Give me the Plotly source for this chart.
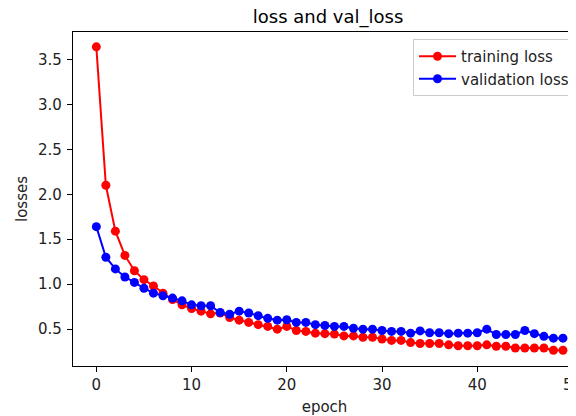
import plotly.graph_objects as go

epochs = list(range(50))
training_loss = [3.64, 2.10, 1.59, 1.32, 1.15, 1.05, 0.98, 0.90, 0.83, 0.77,
                 0.73, 0.70, 0.67, 0.68, 0.63, 0.60, 0.575, 0.55, 0.53, 0.50,
                 0.53, 0.485, 0.475, 0.455, 0.45, 0.445, 0.425, 0.425, 0.41, 0.41,
                 0.39, 0.375, 0.375, 0.35, 0.34, 0.34, 0.34, 0.325, 0.315, 0.315,
                 0.315, 0.325, 0.31, 0.31, 0.29, 0.29, 0.29, 0.29, 0.265, 0.265]
validation_loss = [1.64, 1.30, 1.17, 1.08, 1.02, 0.955, 0.90, 0.87, 0.845, 0.815,
                   0.77, 0.76, 0.76, 0.685, 0.665, 0.70, 0.68, 0.65, 0.62, 0.60,
                   0.605, 0.575, 0.575, 0.55, 0.54, 0.53, 0.53, 0.51, 0.50, 0.50,
                   0.485, 0.475, 0.475, 0.455, 0.48, 0.46, 0.46, 0.45, 0.455, 0.455,
                   0.46, 0.50, 0.44, 0.44, 0.44, 0.485, 0.45, 0.42, 0.40, 0.40]
y_ticks = [0.5, 1.0, 1.5, 2.0, 2.5, 3.0, 3.5]
x_ticks = [0, 10, 20, 30, 40, 50]

FONT = "DejaVu Sans"

fig = go.Figure()
fig.add_trace(go.Scatter(x=epochs, y=training_loss, mode="lines+markers",
                         name="training loss",
                         line=dict(color="#ff0000", width=2),
                         marker=dict(color="#ff0000", size=9)))
fig.add_trace(go.Scatter(x=epochs, y=validation_loss, mode="lines+markers",
                         name="validation loss",
                         line=dict(color="#0000ff", width=2),
                         marker=dict(color="#0000ff", size=9)))

axis_common = dict(showgrid=False, zeroline=False, showline=True,
                   linecolor="black", linewidth=1.2, ticks="outside",
                   ticklen=5, tickwidth=1.2, tickcolor="black", automargin=False,
                   tickfont=dict(family=FONT, size=15, color="#222222"))

# The page body adds an 8px offset; margins below compensate for it.
# The figure is wider than the window so the right part (axes frame end,
# legend end) is cropped like in the reference.
fig.update_layout(
    width=620, height=416,
    margin=dict(l=65, r=52, t=24, b=58),
    paper_bgcolor="white", plot_bgcolor="white",
    title=dict(text="loss and val_loss", x=320 / 620, xanchor="center",
               y=1 - 9 / 416, yanchor="middle", automargin=False,
               font=dict(family=FONT, size=18, color="black")),
    xaxis=dict(range=[-2.45, 50.37], tickvals=x_ticks, mirror=True,
               title=dict(text="epoch", standoff=8,
                          font=dict(family=FONT, size=15, color="#222222")),
               **axis_common),
    yaxis=dict(range=[0.09, 3.805], tickvals=y_ticks, tickformat=".1f",
               ticklabelstandoff=2,
               title=dict(text="losses", standoff=6,
                          font=dict(family=FONT, size=15, color="#222222")),
               **axis_common),
    legend=dict(x=(405 - 65) / 503, y=(358 - 31) / 334, xanchor="left", yanchor="top",
                bgcolor="rgba(255,255,255,0.8)", bordercolor="#cccccc", borderwidth=1,
                font=dict(family=FONT, size=15, color="#222222"),
                itemwidth=37, tracegroupgap=0),
    showlegend=True,
)

fig.write_html("out.html")
